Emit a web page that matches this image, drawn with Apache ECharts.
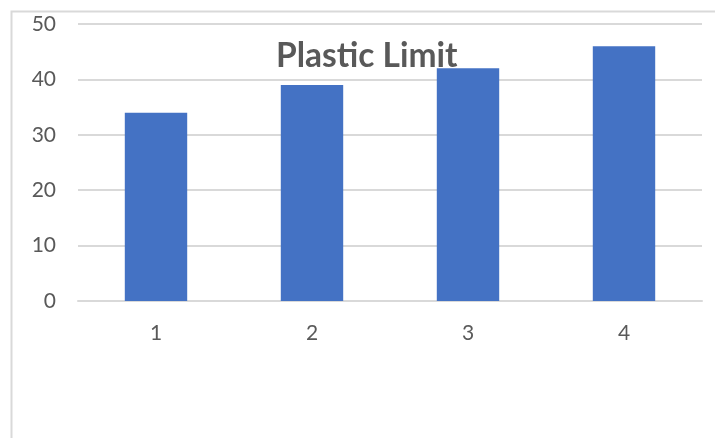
<!DOCTYPE html>
<html>
<head>
<meta charset="utf-8">
<script src="https://cdn.jsdelivr.net/npm/echarts@6/dist/echarts.min.js"></script>
<style>
  html, body { margin: 0; padding: 0; background: #ffffff; }
  #chart { width: 715px; height: 438px; }
</style>
</head>
<body>
<div id="chart"></div>
<script>
// Plastic limit per sample
const categories = ['1', '2', '3', '4'];
const plasticLimit = [34, 39, 42, 46];
const yTicks = { min: 0, max: 50, interval: 10 };

const chart = echarts.init(document.getElementById('chart'), null, { renderer: 'canvas' });

chart.setOption({
  backgroundColor: '#ffffff',
  animation: false,
  title: {
    text: 'Plastic Limit',
    left: 271,
    top: 34,
    textStyle: {
      fontFamily: 'Lato',
      fontWeight: 'bold',
      fontSize: 33.5,
      color: '#595959'
    }
  },
  graphic: [{
    type: 'rect',
    left: 9,
    top: 9,
    shape: { width: 760, height: 480 },
    style: { fill: 'none', stroke: '#D9D9D9', lineWidth: 2 },
    z: -1
  }],
  grid: { left: 78, right: 13, top: 24, bottom: 137, containLabel: false },
  xAxis: {
    type: 'category',
    data: categories,
    axisLine: { show: true, lineStyle: { color: '#D9D9D9', width: 2 } },
    axisTick: { show: false },
    axisLabel: { color: '#595959', fontSize: 21, fontFamily: 'Lato', margin: 22 }
  },
  yAxis: {
    type: 'value',
    min: yTicks.min,
    max: yTicks.max,
    interval: yTicks.interval,
    axisLine: { show: false },
    axisTick: { show: false },
    splitLine: { lineStyle: { color: '#D9D9D9', width: 2 } },
    axisLabel: { color: '#595959', fontSize: 21, fontFamily: 'Lato', margin: 22 }
  },
  series: [{
    type: 'bar',
    data: plasticLimit,
    barWidth: '40%',
    itemStyle: { color: '#4472C4' }
  }]
});
</script>
</body>
</html>
